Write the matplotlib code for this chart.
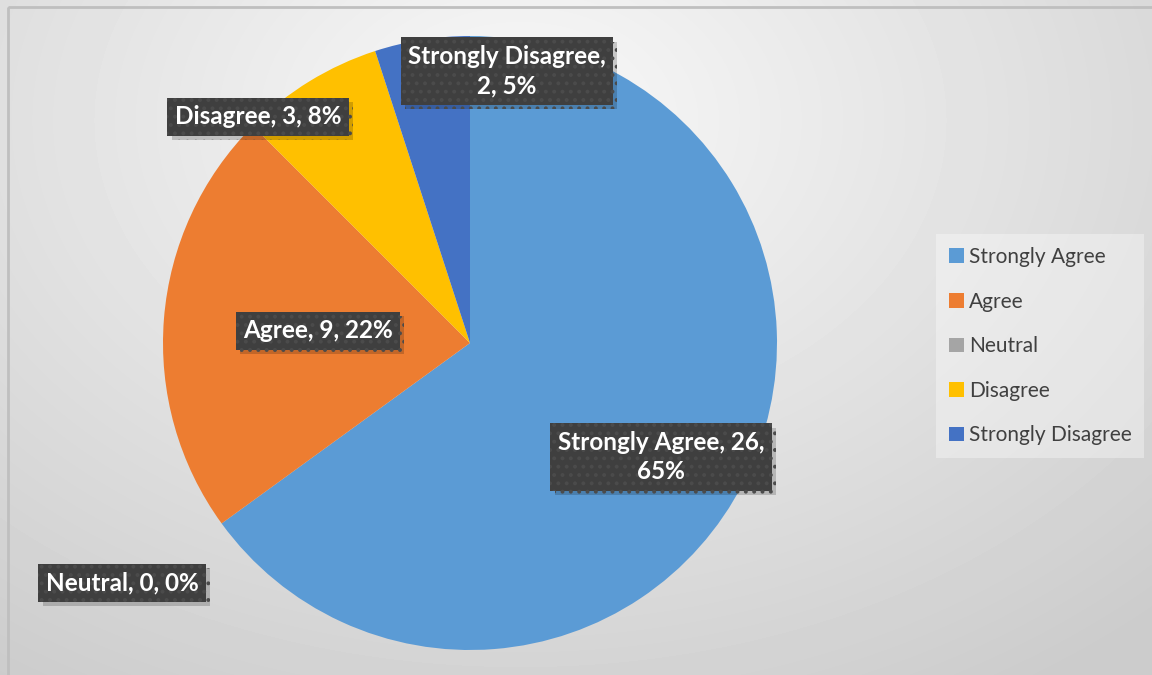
import numpy as np
import matplotlib
matplotlib.use("Agg")
import matplotlib.pyplot as plt
from matplotlib.patches import Rectangle
import matplotlib.patheffects as pe

categories = ["Strongly Agree", "Agree", "Neutral", "Disagree", "Strongly Disagree"]
counts = [26, 9, 0, 3, 2]
percents = ["65%", "22%", "0%", "8%", "5%"]
colors = ["#5B9BD5", "#ED7D31", "#A5A5A5", "#FFC000", "#4472C4"]

W, H = 1152, 675
fig = plt.figure(figsize=(W / 100, H / 100), dpi=100)

# background gradient
bg = fig.add_axes([0, 0, 1, 1])
yy, xx = np.mgrid[0:H, 0:W]
d = np.sqrt(((xx - 520) / 900.0) ** 2 + ((yy - 120) / 650.0) ** 2)
val = np.clip(0.975 - 0.17 * d, 0.80, 1.0)
bg.imshow(val, cmap="gray", vmin=0, vmax=1, extent=[0, W, H, 0], aspect="auto", interpolation="bilinear")
bg.set_xlim(0, W)
bg.set_ylim(H, 0)
bg.axis("off")
bg.add_patch(Rectangle((8, 7), W + 20, H + 20, fill=False, ec="#bfbfbf", lw=2))

ax = fig.add_axes([0, 0, 1, 1])
ax.patch.set_alpha(0)

def py(y):
    return H - y

cx, cy, r = 470, 343, 307
wedges, _ = ax.pie(counts, colors=colors, startangle=90, counterclock=False,
                   center=(cx, py(cy)), radius=r, frame=True,
                   wedgeprops=dict(linewidth=0))
ax.set_xlim(0, W)
ax.set_ylim(0, H)
ax.set_aspect("auto")
ax.axis("off")

plt.rcParams["hatch.linewidth"] = 1.6

label_pos = [(661, 457), (318, 331), (122, 583), (258, 117), (507, 71)]
label_text = [
    "Strongly Agree, 26,\n65%",
    "{}, {}, {}".format(categories[1], counts[1], percents[1]),
    "{}, {}, {}".format(categories[2], counts[2], percents[2]),
    "{}, {}, {}".format(categories[3], counts[3], percents[3]),
    "Strongly Disagree,\n2, 5%",
]
for (x, y), t in zip(label_pos, label_text):
    txt = ax.text(x, py(y), t, ha="center", va="center", color="white",
                  fontsize=17.5, fontweight="bold", family=["Lato", "DejaVu Sans"],
                  linespacing=1.35, multialignment="center",
                  bbox=dict(boxstyle="square,pad=0.3", fc="#3f3f3f", ec="#4b4b4b",
                            lw=0, hatch=".."))
    txt.get_bbox_patch().set_path_effects([
        pe.SimplePatchShadow(offset=(3, -3), shadow_rgbFace="black", alpha=0.18),
        pe.Normal()])

leg = ax.legend(wedges, categories, loc="upper left", bbox_to_anchor=(926 / W, 1 - 224 / H),
                frameon=True, fancybox=False, framealpha=0.35, facecolor="white",
                edgecolor="none", prop=dict(family="Lato", size=15),
                labelcolor="#404040", handlelength=0.7, handleheight=0.7,
                handletextpad=0.25, labelspacing=1.18, borderpad=0.6)
fig.savefig("out.png", dpi=100)
